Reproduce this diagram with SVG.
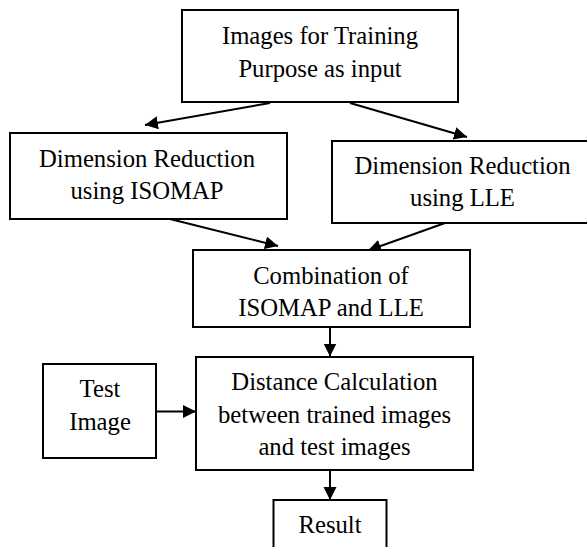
<svg xmlns="http://www.w3.org/2000/svg" width="587" height="547" viewBox="0 0 587 547">
  <style>
    .box { fill: #ffffff; stroke: #000000; stroke-width: 2; }
    text { font-family: 'Liberation Serif', 'Times New Roman', 'DejaVu Serif', serif; font-size: 24.7px; fill: #000000; text-anchor: middle; }
    .conn { stroke: #000000; stroke-width: 2; fill: none; marker-end: url(#arrow); }
  </style>
  <defs>
    <marker id="arrow" markerUnits="userSpaceOnUse" markerWidth="14" markerHeight="14" refX="13" refY="6.5" orient="auto">
      <path d="M0,0 L13,6.5 L0,13 z" fill="#000000"/>
    </marker>
  </defs>
  <rect width="587" height="547" fill="#ffffff"/>

  <g id="connectors">
    <line class="conn" x1="270" y1="103" x2="145" y2="125"/>
    <line class="conn" x1="350" y1="103" x2="467" y2="137"/>
    <line class="conn" x1="170" y1="219" x2="278" y2="246"/>
    <line class="conn" x1="445" y1="223" x2="368" y2="250.5"/>
    <line class="conn" x1="330" y1="327" x2="330" y2="356.5"/>
    <line class="conn" x1="156" y1="411.5" x2="196" y2="411.5"/>
    <line class="conn" x1="330" y1="470" x2="330" y2="500"/>
  </g>

  <g id="node-input">
    <rect class="box" x="182" y="10" width="276" height="92"/>
    <text x="320" y="44">Images for Training</text>
    <text x="320" y="77">Purpose as input</text>
  </g>

  <g id="node-isomap">
    <rect class="box" x="10" y="133" width="277" height="86"/>
    <text x="147" y="167">Dimension Reduction</text>
    <text x="147" y="199">using ISOMAP</text>
  </g>

  <g id="node-lle">
    <rect class="box" x="332" y="141" width="262" height="82"/>
    <text x="462.5" y="174">Dimension Reduction</text>
    <text x="462.5" y="206">using LLE</text>
  </g>

  <g id="node-combination">
    <rect class="box" x="193" y="250" width="277" height="77"/>
    <text x="331" y="284">Combination of</text>
    <text x="331" y="316">ISOMAP and LLE</text>
  </g>

  <g id="node-test">
    <rect class="box" x="43" y="364" width="113" height="94"/>
    <text x="100" y="397">Test</text>
    <text x="100" y="430">Image</text>
  </g>

  <g id="node-distance">
    <rect class="box" x="196" y="357" width="277" height="113"/>
    <text x="334.5" y="390">Distance Calculation</text>
    <text x="334.5" y="423">between trained images</text>
    <text x="334.5" y="455">and test images</text>
  </g>

  <g id="node-result">
    <rect class="box" x="273.5" y="500" width="113" height="60"/>
    <text x="330" y="533">Result</text>
  </g>
</svg>
